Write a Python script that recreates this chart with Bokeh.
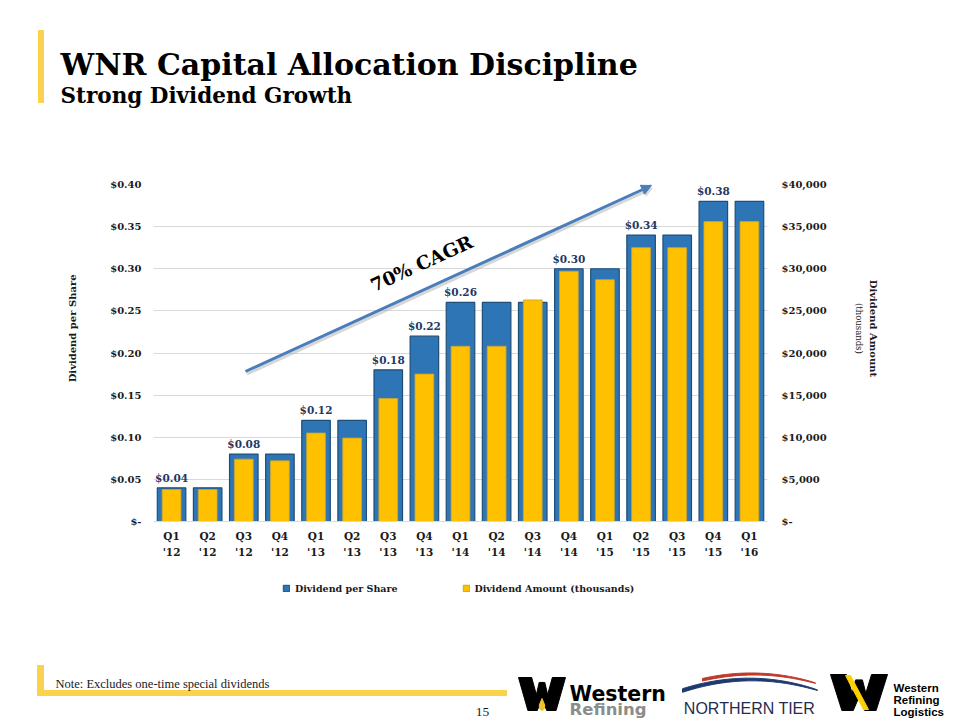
import math
import numpy as np
from bokeh.plotting import figure
from bokeh.layouts import column, row
from bokeh.models import (FactorRange, Range1d, LinearAxis, CategoricalAxis, FixedTicker,
                          Label, Arrow, NormalHead, Legend, LegendItem, ColumnDataSource,
                          CustomJSTickFormatter)
from bokeh.core.properties import value
from bokeh.embed import file_html
from bokeh.resources import INLINE

# ---------------- data ----------------
quarters = ["Q1 '12", "Q2 '12", "Q3 '12", "Q4 '12", "Q1 '13", "Q2 '13", "Q3 '13",
            "Q4 '13", "Q1 '14", "Q2 '14", "Q3 '14", "Q4 '14", "Q1 '15", "Q2 '15",
            "Q3 '15", "Q4 '15", "Q1 '16"]
dividend_per_share = [0.04, 0.04, 0.08, 0.08, 0.12, 0.12, 0.18, 0.22, 0.26, 0.26,
                      0.26, 0.30, 0.30, 0.34, 0.34, 0.38, 0.38]
dividend_amount = [3800, 3800, 7400, 7200, 10500, 9900, 14600, 17500, 20800, 20800,
                   26300, 29700, 28700, 32500, 32500, 35600, 35600]
labelled_quarters = ["Q1 '12", "Q3 '12", "Q1 '13", "Q3 '13", "Q4 '13", "Q1 '14",
                     "Q4 '14", "Q2 '15", "Q4 '15"]
left_ticks = [0, 0.05, 0.10, 0.15, 0.20, 0.25, 0.30, 0.35, 0.40]
left_tick_labels = ["$-", "$0.05", "$0.10", "$0.15", "$0.20", "$0.25", "$0.30",
                    "$0.35", "$0.40"]
right_ticks = [0, 5000, 10000, 15000, 20000, 25000, 30000, 35000, 40000]
right_tick_labels = ["$-", "$5,000", "$10,000", "$15,000", "$20,000", "$25,000",
                     "$30,000", "$35,000", "$40,000"]

SERIF = "DejaVu Serif"
SANS = "Liberation Sans"
LOGO_SANS = "DejaVu Sans"
BLUE = "#2E75B6"
BLUE_EDGE = "#1F4E79"
GOLD = "#FFC000"
GOLD_EDGE = "#C8A535"
DECOR_YELLOW = "#FAD24C"
INK = "#1A1A1A"

# page layout (page pixels)
TOP_H, MID_H, BOT_H = 130, 445, 145
LEFT_W, MAIN_W, RIGHT_W = 100, 745, 115
FRAME_L, FRAME_R, FRAME_T, FRAME_B = 153, 767, 184, 521


def deco_fig(x0, x1, y0, y1):
    """A figure whose frame is the whole canvas, in page-pixel coordinates."""
    f = figure(width=x1 - x0, height=y1 - y0, x_range=Range1d(x0, x1),
               y_range=Range1d(y1, y0), x_axis_type=None, y_axis_type=None,
               output_backend="svg", toolbar_location=None,
               min_border=0, min_border_left=0, min_border_right=0,
               min_border_top=0, min_border_bottom=0)
    f.outline_line_color = None
    f.grid.visible = False
    f.background_fill_color = "white"
    f.border_fill_color = "white"
    return f


def txt(f, x, y, s, font=SERIF, size="12px", style="normal", color=INK,
        align="left", baseline="alphabetic", angle=0.0):
    f.text(x=[x], y=[y], text=[s], text_font=value(font), text_font_size=size,
           text_font_style=style, text_color=color, text_align=align,
           text_baseline=baseline, angle=angle)


# ---------------- title strip ----------------
top = deco_fig(0, 960, 0, TOP_H)
top.quad(left=[38], right=[43], top=[30], bottom=[102], color=DECOR_YELLOW)
txt(top, 60, 64, "WNR Capital Allocation Discipline", size="30px", style="bold",
    color="black")
txt(top, 60, 95, "Strong Dividend Growth", size="21.5px", style="bold", color="black")

# ---------------- main chart ----------------
p = figure(width=MAIN_W, height=MID_H,
           x_range=FactorRange(*quarters, range_padding=0, factor_padding=0),
           y_range=Range1d(0, 0.40),
           output_backend="svg", toolbar_location=None,
           min_border_left=FRAME_L - LEFT_W,
           min_border_right=LEFT_W + MAIN_W - FRAME_R,
           min_border_top=FRAME_T - TOP_H,
           min_border_bottom=TOP_H + MID_H - FRAME_B)
p.outline_line_color = None
p.background_fill_color = "white"
p.border_fill_color = "white"
p.extra_y_ranges = {"amt": Range1d(0, 40000), "py": Range1d(FRAME_B, FRAME_T)}


def px(x):
    """page pixel x -> synthetic categorical coordinate of the main chart"""
    return (x - FRAME_L) / (FRAME_R - FRAME_L) * len(quarters)


yax = p.yaxis[0]
yax.ticker = FixedTicker(ticks=left_ticks)
yax.major_label_overrides = dict(zip(left_ticks, left_tick_labels))
rax = LinearAxis(y_range_name="amt", ticker=FixedTicker(ticks=right_ticks),
                 major_label_overrides=dict(zip(right_ticks, right_tick_labels)))
p.add_layout(rax, "right")
for ax, so in ((yax, 12), (rax, 14)):
    ax.axis_line_color = None
    ax.major_tick_line_color = None
    ax.minor_tick_line_color = None
    ax.major_tick_out = 0
    ax.major_tick_in = 0
    ax.major_label_standoff = so
    ax.major_label_text_font = SERIF
    ax.major_label_text_font_style = "bold"
    ax.major_label_text_font_size = "10px"
    ax.major_label_text_color = INK

# two stacked category axes: quarter on the first row, year on the second
xax = p.xaxis[0]
xax.formatter = CustomJSTickFormatter(code="return tick.split(' ')[0];")
xax2 = CategoricalAxis(formatter=CustomJSTickFormatter(code="return tick.split(' ')[1];"))
p.add_layout(xax2, "below")
for ax, so in ((xax, 8), (xax2, 1)):
    ax.major_tick_line_color = None
    ax.minor_tick_line_color = None
    ax.major_tick_out = 0
    ax.major_tick_in = 0
    ax.major_label_standoff = so
    ax.major_label_text_font = SERIF
    ax.major_label_text_font_style = "bold"
    ax.major_label_text_font_size = "10.5px"
    ax.major_label_text_color = INK
xax.axis_line_color = "#D9D9D9"
xax2.axis_line_color = None

p.xgrid.grid_line_color = None
p.ygrid[0].ticker = FixedTicker(ticks=left_ticks)
p.ygrid.grid_line_color = "#D9D9D9"

src = ColumnDataSource(dict(q=quarters, dps=dividend_per_share, amt=dividend_amount))
p.vbar(x="q", top="dps", width=0.79, source=src,
       fill_color=BLUE, line_color=BLUE_EDGE, line_width=1.2)
p.vbar(x="q", top="amt", width=0.52, source=src, y_range_name="amt",
       fill_color=GOLD, line_color=GOLD_EDGE, line_width=0.8)

lab_vals = [dividend_per_share[quarters.index(q)] for q in labelled_quarters]
lab_src = ColumnDataSource(dict(q=labelled_quarters, v=lab_vals,
                                t=["$%.2f" % v for v in lab_vals]))
p.text(x="q", y="v", text="t", source=lab_src, text_align="center",
       text_baseline="bottom", y_offset=-4, text_font=value(SERIF),
       text_font_style="bold", text_font_size="10.5px", text_color="#1F3864")

# CAGR arrow with soft shadow
p.add_layout(Arrow(x_start=px(246.5), y_start=373.5, x_end=px(652.5), y_end=187.5,
                   y_range_name="py", line_color="#B0B0B0", line_alpha=0.5, line_width=3,
                   end=NormalHead(size=10, fill_color="#B0B0B0", fill_alpha=0.5,
                                  line_color=None)))
p.add_layout(Arrow(x_start=px(245), y_start=371, x_end=px(651), y_end=185,
                   y_range_name="py", line_color="#4A7EBB", line_width=3,
                   end=NormalHead(size=10, fill_color="#4A7EBB", line_color="#4A7EBB")))
p.add_layout(Label(x=px(421), y=263, y_range_name="py", text="70% CAGR",
                   angle=math.radians(24.6), text_align="center", text_baseline="middle",
                   text_font=SERIF, text_font_style="bold", text_font_size="18.5px",
                   text_color="black"))

# ---------------- axis title strips ----------------
left = deco_fig(0, LEFT_W, TOP_H, TOP_H + MID_H)
txt(left, 72, 320, "Dividend per Share", size="10px", style="bold",
    align="center", baseline="middle", angle=math.pi / 2)
right = deco_fig(LEFT_W + MAIN_W, 960, TOP_H, TOP_H + MID_H)
txt(right, 873, 320, "Dividend Amount", size="10px", style="bold",
    align="center", baseline="middle", angle=-math.pi / 2)
txt(right, 858, 320, "(thousands)", size="8.5px", align="center", baseline="middle",
    angle=-math.pi / 2)

# ---------------- footer strip: legend, note, logos ----------------
bot = deco_fig(0, 960, TOP_H + MID_H, 720)
# legend proxies (one NaN row each, so nothing is drawn but the legend swatch)
leg_blue = bot.vbar(x=[np.nan], top=[np.nan], width=1, fill_color=BLUE,
                    line_color=BLUE_EDGE, line_width=1)
leg_gold = bot.vbar(x=[np.nan], top=[np.nan], width=1, fill_color=GOLD,
                    line_color=GOLD_EDGE, line_width=1)
legend = Legend(items=[LegendItem(label="Dividend per Share", renderers=[leg_blue]),
                       LegendItem(label="Dividend Amount (thousands)", renderers=[leg_gold])],
                orientation="horizontal", location=(282, 126),
                glyph_width=8, glyph_height=8, label_standoff=5, spacing=64,
                border_line_color=None, background_fill_alpha=0,
                label_text_font=SERIF, label_text_font_style="bold",
                label_text_font_size="9.5px", label_text_color=INK,
                label_height=12, padding=4, margin=0)
bot.add_layout(legend)

bot.patch(x=[37, 43, 43, 506, 506, 37], y=[665, 665, 690, 690, 695, 695],
          color=DECOR_YELLOW)
txt(bot, 55, 683, "Note:  Excludes one-time special dividends",
    font="Liberation Serif", size="12.5px")
txt(bot, 482, 711, "15", font="Liberation Serif", size="13.5px", align="center")

w_tpl = [(0.00, 0.00), (0.28, 0.00), (0.38, 0.52), (0.44, 0.15), (0.56, 0.15),
         (0.62, 0.52), (0.72, 0.00), (1.00, 0.00), (0.80, 1.00), (0.60, 1.00),
         (0.50, 0.62), (0.40, 1.00), (0.20, 1.00)]


def w_shape(x0, y0, w, h, color):
    bot.patch(x=[x0 + u * w for u, v in w_tpl], y=[y0 + v * h for u, v in w_tpl],
              color=color)


# Western Refining
w_shape(518, 677, 47, 33, "black")
bot.patch(x=[541.5, 544.2, 543.8, 541.5, 539.2, 538.8],
          y=[698, 704.5, 708.5, 710, 708.5, 704.5], color="#F2C12E")
txt(bot, 569, 693, "Western", font=LOGO_SANS, size="20.5px", style="bold",
    color="black")
txt(bot, 569, 709, "Refining", font=LOGO_SANS, size="16.5px", style="bold",
    color="#8C8C8C")

# Northern Tier
xs_b = np.linspace(682, 817, 40)
cy_b = 679 + 0.00238 * (xs_b - 750) ** 2
tb = 3.2 * np.sqrt(1 - (xs_b - 682) / 135.0) + 0.4
bot.patch(x=list(xs_b) + list(xs_b[::-1]),
          y=list(cy_b - tb / 2) + list((cy_b + tb / 2)[::-1]), color="#1F3A6E")
xs_r = np.linspace(702, 815, 40)
cy_r = 673.5 + 0.0023 * (xs_r - 752) ** 2
tr = 2.2 * np.sqrt(1 - (xs_r - 702) / 113.0) + 0.4
bot.patch(x=list(xs_r) + list(xs_r[::-1]),
          y=list(cy_r - tr / 2) + list((cy_r + tr / 2)[::-1]), color="#C0392B")
txt(bot, 749, 708, "NORTHERN TIER", font=SANS, size="16px", color="#1F2D4F",
    align="center")

# Western Refining Logistics
w_shape(830, 674, 57, 36, "black")
bot.patch(x=[845, 850, 868, 863], y=[675, 675, 709, 709], color="#FFD000")
txt(bot, 893, 687, "Western", font=SANS, size="11.5px", style="bold", color="black")
txt(bot, 893, 699, "Refining", font=SANS, size="11.5px", style="bold", color="black")
txt(bot, 893, 711, "Logistics", font=SANS, size="11.5px", style="bold", color="black")

page = column(top, row(left, p, right), bot)
open("out.html", "w").write(file_html(page, INLINE))
